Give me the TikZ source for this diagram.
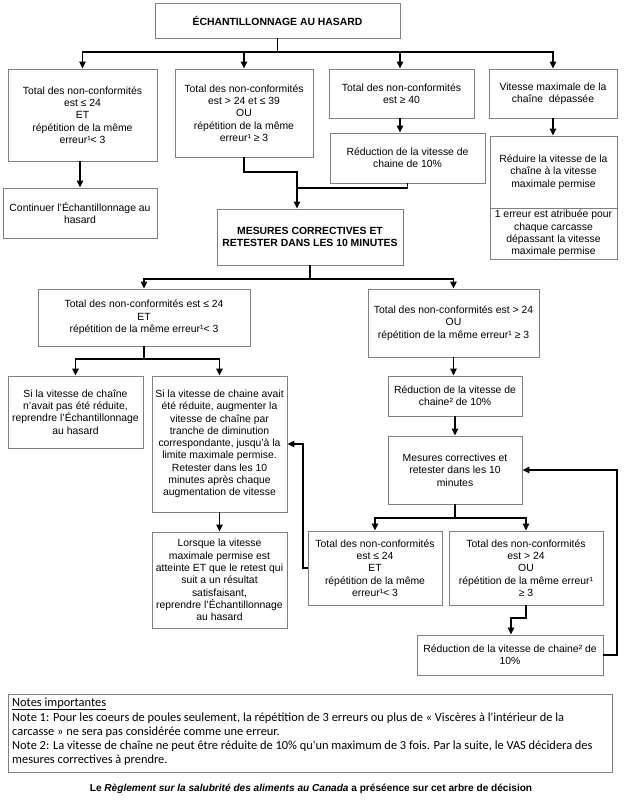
\documentclass[tikz,border=0pt]{standalone}
\usepackage{fontspec}
\setmainfont{Liberation Sans}
\newfontfamily\notesfont{Carlito}
\usetikzlibrary{arrows.meta}
\definecolor{boxgray}{HTML}{808080}
\begin{document}
\begin{tikzpicture}[x=1pt,y=-1pt,
  box/.style={draw=boxgray,line width=0.9pt,align=center,inner sep=0pt,
    font=\fontsize{10.4}{12.3}\selectfont},
  boldbox/.style={box,font=\fontsize{10.4}{12.3}\selectfont\bfseries},
  conn/.style={draw=black,line width=1.2pt},
  arr/.style={conn,-{Triangle[width=6.5pt,length=7pt]}},
  noteline/.style={anchor=west,inner sep=0pt,font=\notesfont\fontsize{12.4}{14}\selectfont}
]
\useasboundingbox (0,0) rectangle (624,800);
\fill[white] (0,0) rectangle (624,800);

% boxes
\node[boldbox,minimum width=245pt,minimum height=35pt] (T) at (277.5,20.5) {ÉCHANTILLONNAGE AU HASARD};
\node[box,minimum width=149pt,minimum height=92pt] (A) at (82.5,115) {Total des non-conformités\\est ≤ 24\\ET\\répétition de la même\\erreur¹< 3};
\node[box,minimum width=138pt,minimum height=88pt] (B) at (244,113) {Total des non-conformités\\est > 24 et ≤ 39\\OU\\répétition de la même\\erreur¹ ≥ 3};
\node[box,minimum width=145pt,minimum height=49pt] (C) at (401.5,93.5) {Total des non-conformités\\est ≥ 40};
\node[box,minimum width=128pt,minimum height=49pt] (D) at (553,93.5) {Vitesse maximale de la\\chaîne\ \ dépassée};
\node[box,minimum width=155pt,minimum height=50pt] (C2) at (407.5,158) {Réduction de la vitesse de\\chaine de 10\%};
\node[box,minimum width=127pt,minimum height=72pt] (D2) at (553.5,172) {Réduire la vitesse de la\\chaîne à la vitesse\\maximale permise};
\node[box,minimum width=127pt,minimum height=51pt] (D3) at (553.5,233.5) {1 erreur est atribuée pour\\chaque carcasse\\dépassant la vitesse\\maximale permise};
\node[box,minimum width=154pt,minimum height=50pt] (A5) at (80,213) {Continuer l'Échantillonnage au\\hasard};
\node[boldbox,minimum width=186pt,minimum height=56pt] (M) at (310,237) {MESURES CORRECTIVES ET\\RETESTER DANS LES 10 MINUTES};
\node[box,minimum width=212pt,minimum height=57pt] (L) at (144,317.5) {Total des non-conformités est ≤ 24\\ET\\répétition de la même erreur¹< 3};
\node[box,minimum width=171pt,minimum height=68pt] (R) at (453.5,323) {Total des non-conformités est > 24\\OU\\répétition de la même erreur¹ ≥ 3};
\node[box,minimum width=135pt,minimum height=72pt] (L1) at (75.5,412) {Si la vitesse de chaîne\\n'avait pas été réduite,\\reprendre l'Échantillonnage\\au hasard};
\node[box,minimum width=135pt,minimum height=136pt] (L2) at (219.5,444) {Si la vitesse de chaine avait\\été réduite, augmenter la\\vitesse de chaîne par\\tranche de diminution\\correspondante, jusqu'à la\\limite maximale permise.\\Retester dans les 10\\minutes après chaque\\augmentation de vitesse};
\node[box,minimum width=135pt,minimum height=96pt] (L3) at (219.5,580) {Lorsque la vitesse\\maximale permise est\\atteinte ET que le retest qui\\suit a un résultat\\satisfaisant,\\reprendre l'Échantillonnage\\au hasard};
\node[box,minimum width=134pt,minimum height=40pt] (R1) at (455,396) {Réduction de la vitesse de\\chaine² de 10\%};
\node[box,minimum width=134pt,minimum height=68pt] (R2) at (455,470) {Mesures correctives et\\retester dans les 10\\minutes};
\node[box,minimum width=134pt,minimum height=74pt] (R3) at (375,568) {Total des non-conformités\\est ≤ 24\\ET\\répétition de la même\\erreur¹< 3};
\node[box,minimum width=154pt,minimum height=74pt] (R4) at (526,568) {Total des non-conformités\\est > 24\\OU\\répétition de la même erreur¹\\≥ 3};
\node[box,minimum width=186pt,minimum height=40pt] (R5) at (510,655) {Réduction de la vitesse de chaine² de\\10\%};

% connectors
\coordinate (j1) at (277.5,52);
\draw[conn] (T.south) -- (j1);
\draw[arr] (j1) -| (A.north);
\draw[arr] (j1) -| (B.north);
\draw[arr] (j1) -| ([xshift=-1.5pt]C.north);
\draw[arr] (j1) -| (D.north);
\draw[arr] (A.south -| A5.north) -- (A5.north);
\draw[arr] ([xshift=-1.5pt]C.south) -- ([xshift=-1.5pt]C.south |- C2.north);
\draw[arr] (D.south) -- (D.south |- D2.north);
\coordinate (jb) at (297,172);
\coordinate (jc) at (297,188);
\draw[arr] (B.south) |- (jb) -- (jb |- M.north);
\draw[conn] (C2.south) |- (jc);
\coordinate (jm) at (310,279);
\draw[conn] (M.south) -- (jm);
\draw[arr] (jm) -| (L.north);
\draw[arr] (jm) -| (R.north);
\coordinate (jl) at (144,359);
\draw[conn] (L.south) -- (jl);
\draw[arr] (jl) -| (L1.north);
\draw[arr] (jl) -| (L2.north);
\draw[arr] (L2.south) -- (L3.north);
\draw[arr] (R.south) -- (R.south |- R1.north);
\draw[arr] (R1.south) -- (R2.north);
\coordinate (jr) at (455,518);
\draw[conn] (R2.south) -- (jr);
\draw[arr] (jr) -| (R3.north);
\draw[arr] (jr) -| (R4.north);
\coordinate (k) at (511,618);
\draw[arr] (R4.south) |- (k) -- (k |- R5.north);
\coordinate (loopR) at (617,0);
\draw[arr] (R5.east) -| (loopR |- R2.east) -- (R2.east);
\coordinate (loopL) at (303,0);
\draw[arr] (R3.west) -| (loopL |- L2.east) -- (L2.east);

% notes
\node[draw=boxgray,line width=0.9pt,minimum width=604pt,minimum height=78pt,inner sep=0pt] (N) at (310,733) {};
\node[noteline] (n0) at (12,704) {\underline{Notes importantes}};
\node[noteline] (n1) at (12,718) {Note 1: Pour les coeurs de poules seulement, la répétition de 3 erreurs ou plus de « Viscères à l'intérieur de la};
\node[noteline] (n2) at (12,732) {carcasse » ne sera pas considérée comme une erreur.};
\node[noteline] (n3) at (12,746) {Note 2: La vitesse de chaîne ne peut être réduite de 10\% qu'un maximum de 3 fois. Par la suite, le VAS décidera des};
\node[noteline] (n4) at (12,760) {mesures correctives à prendre.};
\node[inner sep=0pt,font=\fontsize{10.1}{12}\selectfont\bfseries] (F) at (311,789) {Le \textit{Règlement sur la salubrité des aliments au Canada} a préséence sur cet arbre de décision};
\end{tikzpicture}
\end{document}
